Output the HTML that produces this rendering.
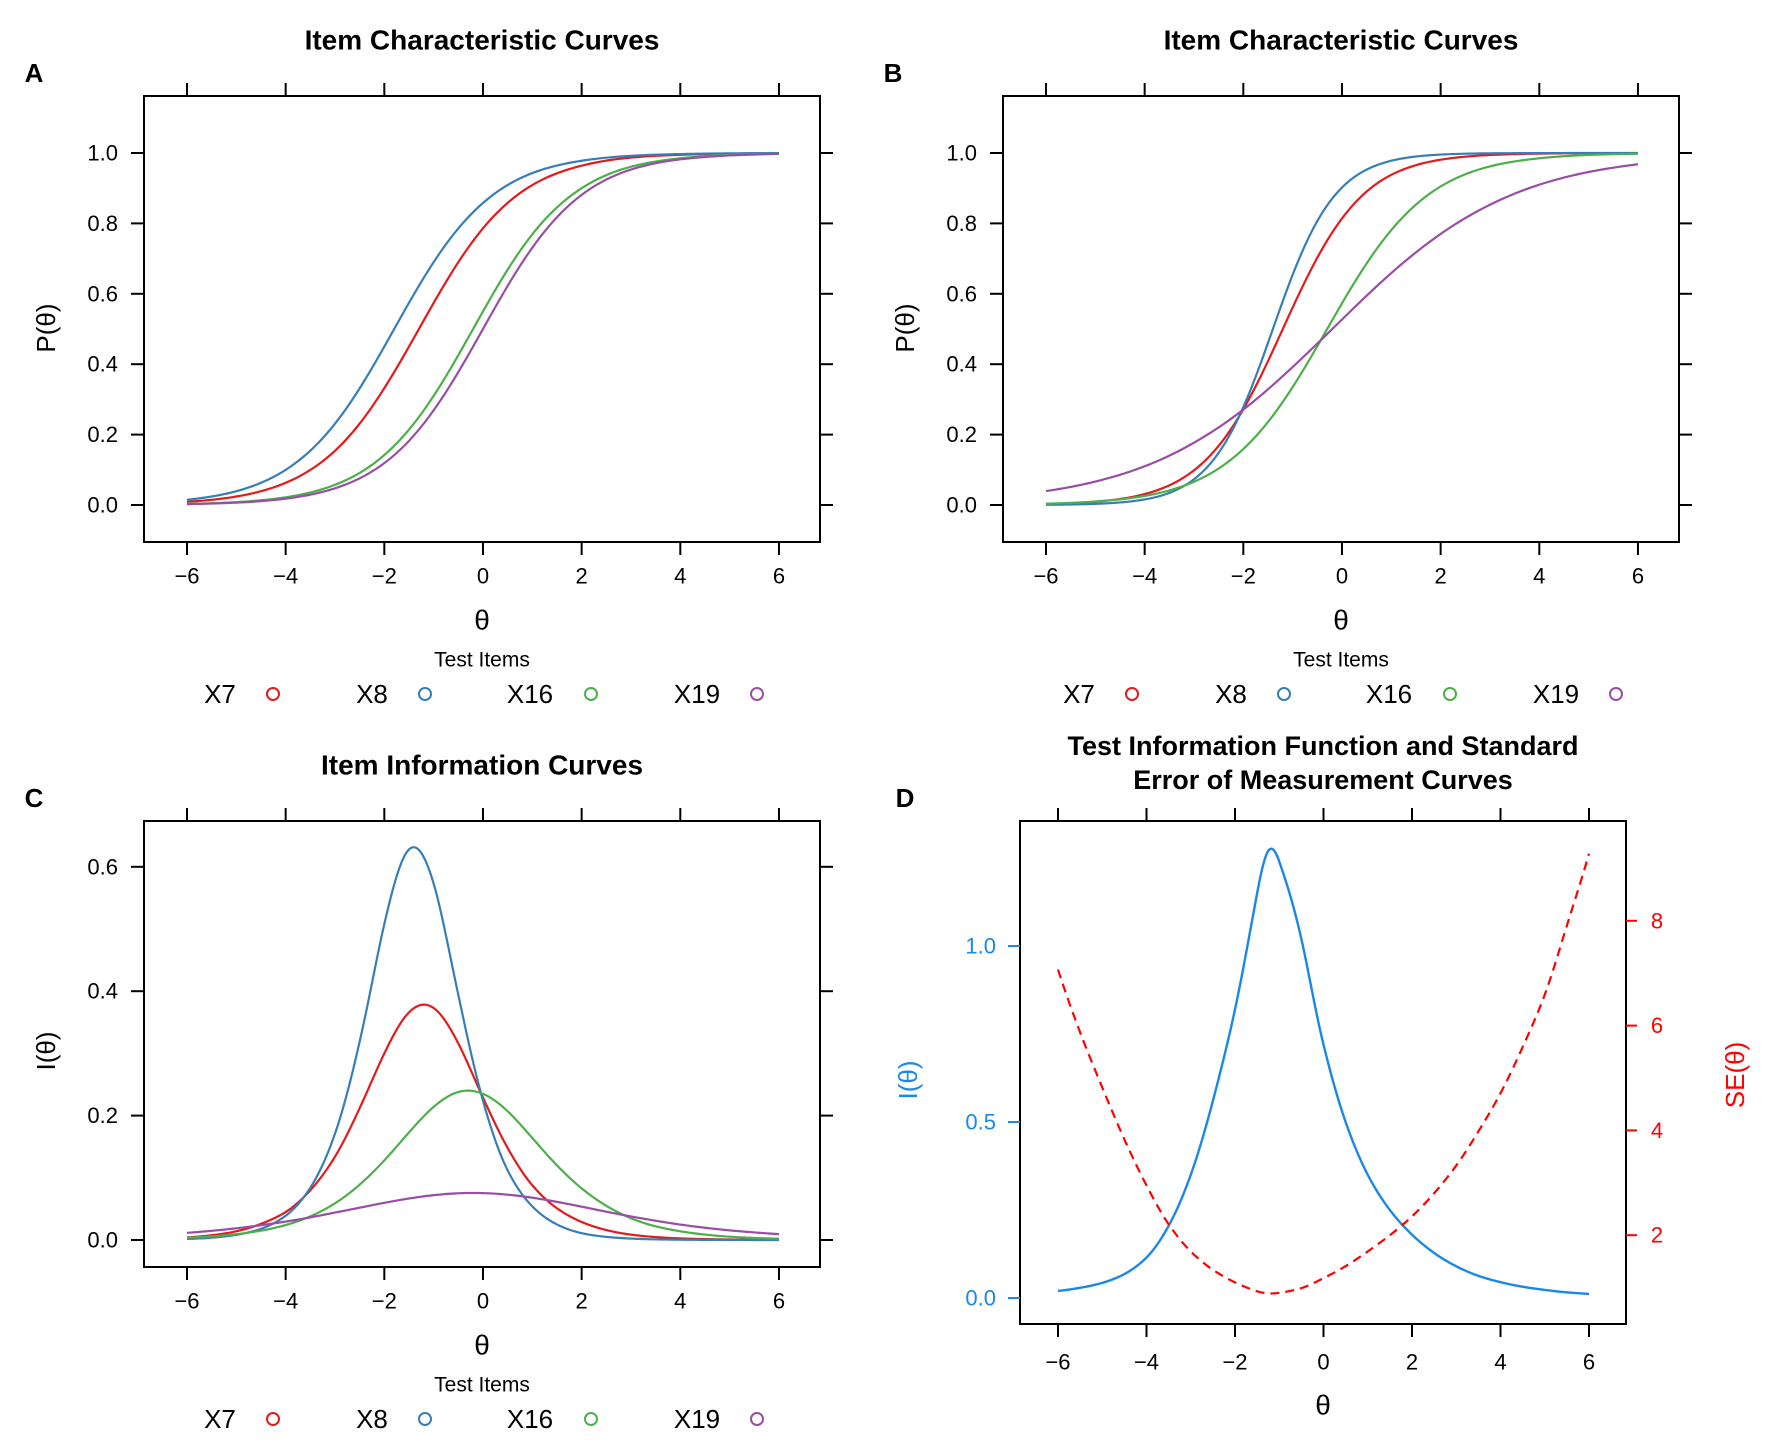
<!DOCTYPE html>
<html><head><meta charset="utf-8">
<style>
html,body{margin:0;padding:0;background:#fff;}
svg{display:block;}
text{font-family:"Liberation Sans",sans-serif;}
</style></head>
<body>
<svg id="fig" width="1772" height="1453" viewBox="0 0 1772 1453" xmlns="http://www.w3.org/2000/svg"></svg>
<script>
// ---------- data ----------
const thetaInt = [-6,-5,-4,-3,-2,-1,0,1,2,3,4,5,6];
const thetaHalf = [-6,-5.5,-5,-4.5,-4,-3.5,-3,-2.5,-2,-1.5,-1,-0.5,0,0.5,1,1.5,2,2.5,3,3.5,4,4.5,5,5.5,6];
const itemNames = ['X7','X8','X16','X19'];
const itemColors = ['#E41A1C','#377EB8','#4DAF4A','#984EA3'];
const xTicks = [-6,-4,-2,0,2,4,6];
const pTicks = [0,0.2,0.4,0.6,0.8,1.0];
const iTicks = [0,0.2,0.4,0.6];
const tifTicks = [0,0.5,1.0];
const seTicks = [2,4,6,8];
// Panel A ICCs
const aX7  = [.009,.0241,.063,.154,.332,.574,.786,.909,.964,.987,.995,.998,.9993];
const aX8  = [.0148,.0392,.0998,.231,.450,.69,.858,.943,.978,.992,.997,.999,.9996];
const aX16 = [.003,.0082,.0219,.0573,.142,.31,.55,.769,.90,.961,.985,.9945,.998];
const aX19 = [.0025,.0067,.018,.0474,.119,.269,.5,.731,.881,.953,.982,.993,.9975];
// Panel B ICCs
const bX7  = [.0027,.0093,.031,.0985,.272,.561,.814,.938,.981,.9943,.9983,.9995,.9998];
const bX8  = [.0007,.0033,.0158,.073,.278,.654,.902,.978,.9955,.9991,.9998,.99995,.99999];
const bX16 = [.0037,.0099,.0258,.066,.159,.335,.573,.781,.905,.962,.985,.9945,.9979];
const bX19 = [.0395,.0666,.110,.177,.271,.392,.527,.659,.770,.853,.910,.946,.968];
// Panel C item information
const cX7  = [.0041,.0076,.014,.026,.045,.080,.134,.212,.300,.366,.373,.316,.229,.148,.088,.051,.029,.016,.0086,.0047,.0025,.0014,.0008,.00045,.00025];
const cX8  = [.0017,.0037,.0083,.018,.039,.084,.171,.319,.508,.628,.573,.394,.224,.112,.054,.025,.011,.005,.0023,.001,.00047,.00021,.0001,.00004,.00002];
const cX16 = [.0036,.0058,.0094,.015,.024,.038,.059,.089,.128,.173,.214,.238,.235,.207,.164,.120,.083,.055,.035,.022,.014,.0087,.0053,.0033,.002];
const cX19 = [.0115,.0148,.0188,.0238,.0296,.0364,.0441,.0519,.0598,.0667,.0721,.0751,.0754,.0729,.068,.0613,.0536,.0455,.0379,.031,.0248,.0197,.0155,.0122,.0094];
// Panel D
const thetaD = [-6,-5.5,-5,-4.5,-4,-3.5,-3,-2.5,-2,-1.5,-1.25,-1,-0.5,0,0.5,1,1.5,2,2.5,3,3.5,4,4.5,5,5.5,6];
const tif = [.020,.029,.043,.068,.115,.205,.35,.56,.82,1.15,1.27,1.24,1.02,.72,.50,.35,.25,.18,.128,.09,.063,.045,.032,.023,.016,.0116];
const sem = [7.07,5.87,4.82,3.83,2.95,2.21,1.69,1.34,1.10,.93,.89,.90,.99,1.18,1.41,1.69,2.0,2.36,2.80,3.33,3.98,4.71,5.59,6.59,7.91,9.28];

// ---------- helpers ----------
const NS='http://www.w3.org/2000/svg';
const svg=document.getElementById('fig');
function mk(tag,attrs,parent,txt){const e=document.createElementNS(NS,tag);for(const k in attrs)e.setAttribute(k,attrs[k]);if(txt!==undefined)e.textContent=txt;(parent||svg).appendChild(e);return e;}
const logit=p=>{p=Math.min(Math.max(p,1e-6),1-1e-6);return Math.log(p/(1-p));};
const expit=z=>1/(1+Math.exp(-z));
const lg=v=>Math.log(Math.max(v,1e-7));
// Catmull-Rom interpolation in a transformed space, sampled densely
function curvePath(xsArr, vals, f, finv, xs, ys){
  const u=vals.map(f), n=xsArr.length, pts=[];
  for(let i=0;i<n-1;i++){
    const x0=xsArr[i],x1=xsArr[i+1],h=x1-x0;
    const m0=i>0?(u[i+1]-u[i-1])/(xsArr[i+1]-xsArr[i-1]):(u[1]-u[0])/(xsArr[1]-xsArr[0]);
    const m1=i<n-2?(u[i+2]-u[i])/(xsArr[i+2]-xsArr[i]):(u[n-1]-u[n-2])/(xsArr[n-1]-xsArr[n-2]);
    const S=12;
    for(let k=(i===0?0:1);k<=S;k++){
      const t=k/S,t2=t*t,t3=t2*t;
      const v=(2*t3-3*t2+1)*u[i]+(t3-2*t2+t)*h*m0+(-2*t3+3*t2)*u[i+1]+(t3-t2)*h*m1;
      pts.push([xs(x0+t*h),ys(finv(v))]);
    }
  }
  return 'M'+pts.map(p=>p[0].toFixed(2)+','+p[1].toFixed(2)).join(' L');
}
function fmt(v,dec){return (v<0?'\u2212':'')+Math.abs(v).toFixed(dec);}

function itemPanel(cfg){
  const g=mk('g',{});
  
  
  const ox=cfg.ox, oy=cfg.oy;
  const L=144+ox,R=820+ox,T=96+oy,B=542+oy;
  const xs=t=>187+ox+(t+6)*49.33;
  const ys=v=>cfg.y0+oy-v*cfg.yk;
  const t=mk('text',{x:(L+R)/2,y:40+oy,'text-anchor':'middle','dominant-baseline':'central','font-size':28,'font-weight':'bold'},g,cfg.title);
  
  const lt=mk('text',{x:34+ox,y:73+oy,'text-anchor':'middle','dominant-baseline':'central','font-size':26,'font-weight':'bold'},g,cfg.letter);
  
  const box=mk('rect',{x:L,y:T,width:R-L,height:B-T,fill:'none',stroke:'#000','stroke-width':2},g);
  
  xTicks.forEach(v=>{
    const x=xs(v);
    mk('line',{x1:x,x2:x,y1:B,y2:B+13,stroke:'#000','stroke-width':2},g);
    mk('line',{x1:x,x2:x,y1:T,y2:T-13,stroke:'#000','stroke-width':2},g);
    const tl=mk('text',{x:x,y:576+oy,'text-anchor':'middle','dominant-baseline':'central','font-size':22},g,fmt(v,0));
    
  });
  cfg.ticks.forEach(v=>{
    const y=ys(v);
    mk('line',{x1:L,x2:L-13,y1:y,y2:y,stroke:'#000','stroke-width':2},g);
    mk('line',{x1:R,x2:R+13,y1:y,y2:y,stroke:'#000','stroke-width':2},g);
    const tl=mk('text',{x:118+ox,y:y,'text-anchor':'end','dominant-baseline':'central','font-size':22},g,v.toFixed(1));
    
  });
  const xt=mk('text',{x:(L+R)/2,y:620+oy,'text-anchor':'middle','dominant-baseline':'central','font-size':28,'font-family':'"Liberation Serif",serif'},g,'\u03b8');
  
  const yt=mk('text',{x:0,y:0,transform:'translate('+(46+ox)+','+(cfg.ytY+oy)+') rotate(-90)','text-anchor':'middle','dominant-baseline':'central','font-size':26},g,cfg.ytitle);
  
  cfg.series.forEach((s,i)=>{
    const p=mk('path',{d:curvePath(cfg.theta,s,cfg.f,cfg.finv,xs,ys),fill:'none',stroke:itemColors[i],'stroke-width':2.2},g);
    
    
  });
  const lgd=mk('g',{},g);
  
  const ltt=mk('text',{x:(L+R)/2,y:660+oy,'text-anchor':'middle','dominant-baseline':'central','font-size':21},lgd,'Test Items');
  
  const tx=[220,372,530,697], cx=[273,425,591,757];
  itemNames.forEach((n,i)=>{
    const e=mk('text',{x:tx[i]+ox,y:694+oy,'text-anchor':'middle','dominant-baseline':'central','font-size':26},lgd,n);
    
    
    const c=mk('circle',{cx:cx[i]+ox,cy:694+oy,r:6,fill:'none',stroke:itemColors[i],'stroke-width':2},lgd);
    
    
  });
}
itemPanel({name:'panel-a',ox:0,oy:0,title:'Item Characteristic Curves',letter:'A',y0:505,yk:352,ticks:pTicks,ytitle:'P(\u03b8)',ytY:328,theta:thetaInt,series:[aX7,aX8,aX16,aX19],f:logit,finv:expit});
itemPanel({name:'panel-b',ox:859,oy:0,title:'Item Characteristic Curves',letter:'B',y0:505,yk:352,ticks:pTicks,ytitle:'P(\u03b8)',ytY:328,theta:thetaInt,series:[bX7,bX8,bX16,bX19],f:logit,finv:expit});
itemPanel({name:'panel-c',ox:0,oy:725,title:'Item Information Curves',letter:'C',y0:515,yk:622,ticks:iTicks,ytitle:'I(\u03b8)',ytY:326,theta:thetaHalf,series:[cX7,cX8,cX16,cX19],f:lg,finv:Math.exp});

// ---------- panel D ----------
(function(){
  const g=mk('g',{});
  
  
  const L=1020,R=1626,T=821,B=1324;
  const xs=t=>1058+(t+6)*44.25;
  const yl=v=>1298-v*352;
  const yr=v=>1340-v*52.4;
  const blue='#1A88E8', red='#FF0000';
  [['Test Information Function and Standard',746],['Error of Measurement Curves',780]].forEach(a=>{
    const t=mk('text',{x:(L+R)/2,y:a[1],'text-anchor':'middle','dominant-baseline':'central','font-size':27,'font-weight':'bold'},g,a[0]);
    
  });
  const lt=mk('text',{x:905,y:798,'text-anchor':'middle','dominant-baseline':'central','font-size':26,'font-weight':'bold'},g,'D');
  
  const box=mk('rect',{x:L,y:T,width:R-L,height:B-T,fill:'none',stroke:'#000','stroke-width':2},g);
  
  xTicks.forEach(v=>{
    const x=xs(v);
    mk('line',{x1:x,x2:x,y1:B,y2:B+13,stroke:'#000','stroke-width':2},g);
    mk('line',{x1:x,x2:x,y1:T,y2:T-13,stroke:'#000','stroke-width':2},g);
    const tl=mk('text',{x:x,y:1362,'text-anchor':'middle','dominant-baseline':'central','font-size':22},g,fmt(v,0));
    
  });
  tifTicks.forEach(v=>{
    const y=yl(v);
    mk('line',{x1:L,x2:L-12,y1:y,y2:y,stroke:blue,'stroke-width':2},g);
    const tl=mk('text',{x:996,y:y,'text-anchor':'end','dominant-baseline':'central','font-size':22,fill:blue},g,v.toFixed(1));
    
  });
  seTicks.forEach(v=>{
    const y=yr(v);
    mk('line',{x1:R,x2:R+11,y1:y,y2:y,stroke:red,'stroke-width':2},g);
    const tl=mk('text',{x:1657,y:y,'text-anchor':'middle','dominant-baseline':'central','font-size':22,fill:red},g,String(v));
    
  });
  const xt=mk('text',{x:(L+R)/2,y:1405,'text-anchor':'middle','dominant-baseline':'central','font-size':28,'font-family':'"Liberation Serif",serif'},g,'\u03b8');
  
  const yt=mk('text',{x:0,y:0,transform:'translate(908,1080) rotate(-90)','text-anchor':'middle','dominant-baseline':'central','font-size':26,fill:blue},g,'I(\u03b8)');
  
  const yt2=mk('text',{x:0,y:0,transform:'translate(1735,1075) rotate(-90)','text-anchor':'middle','dominant-baseline':'central','font-size':26,fill:red},g,'SE(\u03b8)');
  
  const p1=mk('path',{d:curvePath(thetaD,tif,lg,Math.exp,xs,yl),fill:'none',stroke:blue,'stroke-width':2.4},g);
  
  
  const p2=mk('path',{d:curvePath(thetaD,sem,lg,Math.exp,xs,yr),fill:'none',stroke:red,'stroke-width':2.2,'stroke-dasharray':'9,6'},g);
  
  
})();
</script>
</body></html>
